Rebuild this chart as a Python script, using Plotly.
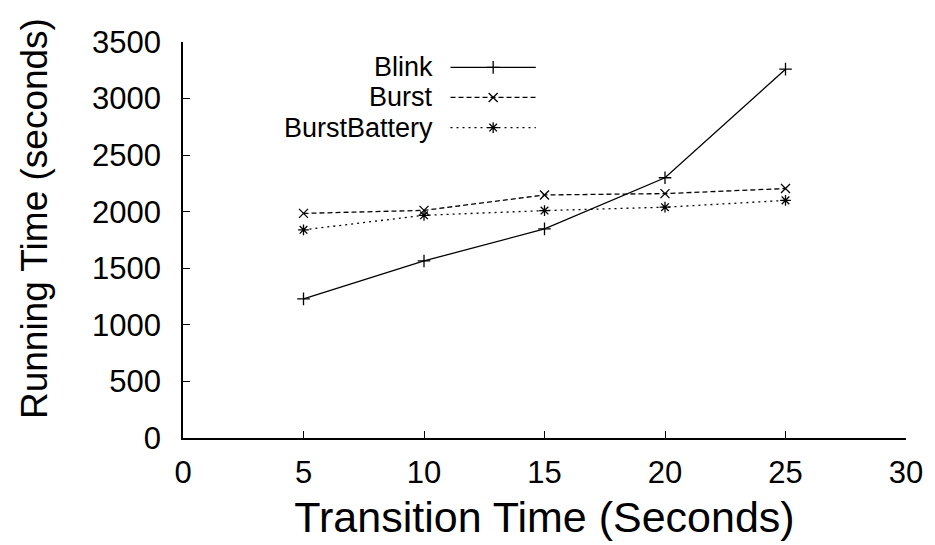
import plotly.graph_objects as go

x_vals = [5, 10, 15, 20, 25]
blink = [1230, 1565, 1848, 2300, 3260]
burst = [1985, 2012, 2148, 2160, 2205]
burst_battery = [1840, 1968, 2010, 2040, 2100]
series_names = ["Blink", "Burst", "BurstBattery"]
x_ticks = [0, 5, 10, 15, 20, 25, 30]
y_ticks = [0, 500, 1000, 1500, 2000, 2500, 3000, 3500]

styles = [
    dict(dash="solid", symbol="cross-thin-open"),
    dict(dash="5px,3px", symbol="x-thin-open"),
    dict(dash="2px,4px", symbol="asterisk-open"),
]
data = [blink, burst, burst_battery]

fig = go.Figure()
for name, ys, st in zip(series_names, data, styles):
    fig.add_trace(go.Scatter(
        x=x_vals, y=ys, mode="lines+markers", name=name, showlegend=False,
        line=dict(color="black", width=1.3, dash=st["dash"]),
        marker=dict(symbol=st["symbol"], size=9, color="black",
                    line=dict(color="black", width=1.3)),
    ))

font = "Liberation Sans, Arial, sans-serif"

# Legend drawn on an overlay axis (0..1 coordinates over the plot area)
legend_rows = [0.936, 0.86, 0.784]
for name, st, ry in zip(series_names, styles, legend_rows):
    fig.add_trace(go.Scatter(
        x=[0.37, 0.488], y=[ry, ry], mode="lines", xaxis="x2", yaxis="y2",
        showlegend=False, hoverinfo="skip",
        line=dict(color="black", width=1.3, dash=st["dash"]),
    ))
    fig.add_trace(go.Scatter(
        x=[0.429], y=[ry], mode="markers", xaxis="x2", yaxis="y2",
        showlegend=False, hoverinfo="skip",
        marker=dict(symbol=st["symbol"], size=9, color="black",
                    line=dict(color="black", width=1.3)),
    ))
    fig.add_annotation(
        x=0.349, y=ry, xref="x2", yref="y2", text=name, showarrow=False,
        xanchor="right", yanchor="middle",
        font=dict(family=font, size=27, color="black"),
    )

# Y-axis title as an annotation (placed slightly above the axis centre, as in the reference)
fig.add_annotation(
    x=-0.206, y=0.553, xref="paper", yref="paper", text="Running Time (seconds)",
    showarrow=False, textangle=-90, xanchor="center", yanchor="middle",
    font=dict(family=font, size=37, color="black"),
)

fig.update_layout(
    width=935, height=545,
    margin=dict(l=183, r=27, t=42, b=107),
    paper_bgcolor="white", plot_bgcolor="white",
    font=dict(family=font, color="black"),
    xaxis=dict(
        range=[0, 30], tickvals=x_ticks, ticks="inside", ticklen=7,
        tickcolor="black", tickwidth=1, showline=True, linecolor="black",
        linewidth=1.5, showgrid=False, zeroline=False,
        tickfont=dict(size=31, family=font), ticklabelstandoff=6,
        title=dict(text="Transition Time (Seconds)", font=dict(size=43, family=font), standoff=13),
    ),
    yaxis=dict(
        range=[0, 3500], tickvals=y_ticks, ticks="inside", ticklen=7,
        tickcolor="black", tickwidth=1, showline=True, linecolor="black",
        linewidth=1.5, showgrid=False, zeroline=False,
        tickfont=dict(size=31, family=font), ticklabelstandoff=14,
    ),
    xaxis2=dict(range=[0, 1], overlaying="x", visible=False, domain=[0, 1]),
    yaxis2=dict(range=[0, 1], overlaying="y", visible=False),
)

fig.write_html("out.html")
